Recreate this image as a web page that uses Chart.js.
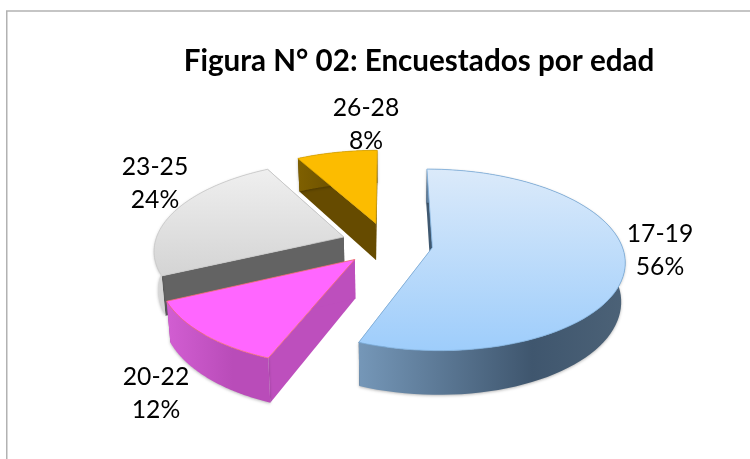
<!DOCTYPE html>
<html><head><meta charset="utf-8">
<style>html,body{margin:0;padding:0;background:#fff}canvas{display:block}</style>
<script src="https://cdn.jsdelivr.net/npm/chart.js@4"></script>
</head><body><canvas id="c" width="750" height="459"></canvas>
<script>
const categories = ['17-19','20-22','23-25','26-28'];
const values = [56,12,24,8];
const tickLabels = ['56%','12%','24%','8%'];
const topColors = ['#b8d8fa','#ff66ff','#e2e2e2','#fcbc00'];
const cutColors = ['#3f5870','#bd4fbd','#636363','#664b00'];
const bandStart = ['#7597b8','#d25ed2','#d8d8d8','#7f6000'];
const bandMid = ['#3f566e','#b94cb9','#c4c4c4','#664b00'];
const edgeColors = ['#7fb0dd','#f0706a','#c8c8c8','#e0a800'];
const drawOrder = [2,3,0,1];

// perspective camera of the pie plane
const cam = {x0:387,y0:243.5,f:189,g:88,k:0.135,depth:38,converge:0.983};
const labelPos = [[660,234],[156,377],[155,167],[366,108]];
const lineGap = 33;

function proj(U,V,down){
  const w = 1-cam.k*V;
  const s = down?cam.converge:1;
  return [cam.x0+cam.f*U*s/w, cam.y0+(cam.g*V+(down?cam.depth:0))/w];
}
function sliceGeom(el){
  const mid=(el.startAngle+el.endAngle)/2;
  const d=el.options.offset/el.outerRadius;
  const cu=d*Math.cos(mid), cv=d*Math.sin(mid);
  const pts=[], n=80;
  for(let i=0;i<=n;i++){
    const a=el.startAngle+(el.endAngle-el.startAngle)*i/n;
    pts.push([cu+Math.cos(a),cv+Math.sin(a)]);
  }
  return {apex:[cu,cv],pts};
}
function poly(ctx,list){
  ctx.beginPath();
  list.forEach((p,i)=> i?ctx.lineTo(p[0],p[1]):ctx.moveTo(p[0],p[1]));
  ctx.closePath();
}
function quad(ctx,a,b,fill){
  poly(ctx,[proj(a[0],a[1]),proj(b[0],b[1]),proj(b[0],b[1],true),proj(a[0],a[1],true)]);
  ctx.fillStyle=fill;ctx.fill();
}
const pie3d={
  id:'pie3d',
  beforeDraw(chart){
    const ctx=chart.ctx;
    ctx.save();ctx.strokeStyle='#b2b2b2';ctx.lineWidth=1.5;
    ctx.beginPath();ctx.moveTo(6.75,459);ctx.lineTo(6.75,11);ctx.lineTo(750,11);ctx.stroke();
    ctx.restore();
  },
  beforeDatasetsDraw(chart){
    const ctx=chart.ctx, arcs=chart.getDatasetMeta(0).data;
    drawOrder.forEach(i=>{
      const el=arcs[i], g=sliceGeom(el), P=g.pts;
      ctx.save();
      quad(ctx,g.apex,P[0],cutColors[i]);
      quad(ctx,g.apex,P[P.length-1],cutColors[i]);
      const top=P.map(p=>proj(p[0],p[1]));
      const bot=P.map(p=>proj(p[0],p[1],true)).reverse();
      const xs=top.map(p=>p[0]);
      const x1=Math.min(...xs), x2=Math.max(...xs);
      const gr=ctx.createLinearGradient(x1,0,x2,0);
      gr.addColorStop(0,bandStart[i]);
      gr.addColorStop(0.65,bandMid[i]);
      gr.addColorStop(1,i===0?'#4c6277':bandMid[i]);
      ctx.shadowColor='rgba(0,0,0,0.28)';ctx.shadowBlur=3;ctx.shadowOffsetY=1;
      poly(ctx,top.concat(bot));ctx.fillStyle=gr;ctx.fill();
      ctx.shadowColor='transparent';
      const ap=proj(g.apex[0],g.apex[1]);
      poly(ctx,[ap].concat(top));
      const ys=top.concat([ap]).map(p=>p[1]);
      const y1=Math.min(...ys), y2=Math.max(...ys);
      let fill=topColors[i];
      if(i===0||i===2){
        const tg=ctx.createLinearGradient(0,y1,0,y2);
        tg.addColorStop(0,i===0?'#dbeafa':'#efefef');
        tg.addColorStop(1,i===0?'#9ecdfb':'#d4d4d4');
        fill=tg;
      }
      ctx.fillStyle=fill;ctx.fill();
      ctx.strokeStyle=edgeColors[i];ctx.lineWidth=0.8;ctx.stroke();
      ctx.restore();
    });
    ctx.save();
    ctx.font='24.7px Lato';ctx.fillStyle='#000';ctx.textAlign='center';ctx.textBaseline='middle';
    categories.forEach((c,i)=>{
      ctx.fillText(c,labelPos[i][0],labelPos[i][1]);
      ctx.fillText(tickLabels[i],labelPos[i][0],labelPos[i][1]+lineGap);
    });
    ctx.restore();
    return false;
  }
};
new Chart(document.getElementById('c'),{
  type:'pie',
  data:{labels:categories,datasets:[{data:values,backgroundColor:topColors,borderWidth:0,offset:40}]},
  options:{
    responsive:false,animation:false,
    layout:{padding:{left:88,top:0,right:0,bottom:0}},
    plugins:{
      legend:{display:false},tooltip:{enabled:false},
      title:{display:true,text:'Figura N° 02: Encuestados por edad',color:'#000',
        font:{family:'Lato',size:29.6,weight:'bold'},padding:{top:44,bottom:10}}
    }
  },
  plugins:[pie3d]
});
</script></body></html>
